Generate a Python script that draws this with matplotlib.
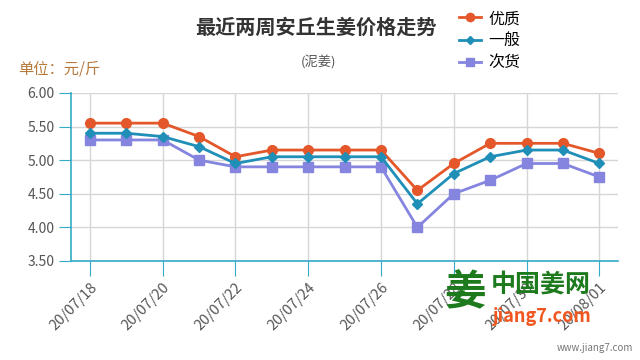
import matplotlib.pyplot as plt

plt.rcParams['font.family'] = ['Noto Sans CJK SC', 'DejaVu Sans']

# data
dates = ['20/07/18', '20/07/19', '20/07/20', '20/07/21', '20/07/22',
         '20/07/23', '20/07/24', '20/07/25', '20/07/26', '20/07/27',
         '20/07/28', '20/07/29', '20/07/30', '20/07/31', '20/08/01']
youzhi = [5.55, 5.55, 5.55, 5.35, 5.05, 5.15, 5.15, 5.15, 5.15, 4.55,
          4.95, 5.25, 5.25, 5.25, 5.10]
yiban = [5.40, 5.40, 5.35, 5.20, 4.95, 5.05, 5.05, 5.05, 5.05, 4.35,
         4.80, 5.05, 5.15, 5.15, 4.95]
cihuo = [5.30, 5.30, 5.30, 5.00, 4.90, 4.90, 4.90, 4.90, 4.90, 4.00,
         4.50, 4.70, 4.95, 4.95, 4.75]
y_ticks = [3.5, 4.0, 4.5, 5.0, 5.5, 6.0]

axis_color = '#35a9c8'
x = list(range(len(dates)))

fig = plt.figure(figsize=(6.4, 3.6), dpi=100)
ax = fig.add_axes([0.111, 0.275, 0.855, 0.467])

ax.plot(x, youzhi, color='#e4572a', lw=2, marker='o', ms=7, label='优质', zorder=3)
ax.plot(x, yiban, color='#1f8fb8', lw=2, marker='D', ms=5, label='一般', zorder=4)
ax.plot(x, cihuo, color='#8585e0', lw=2, marker='s', ms=7, label='次货', zorder=2)

ax.set_xlim(-0.52, len(dates) - 1 + 0.52)
ax.set_ylim(3.5, 6.0)
ax.set_yticks(y_ticks)
ax.set_yticklabels([f'{v:.2f}' for v in y_ticks])
ax.set_xticks(x[::2])
ax.set_xticklabels(dates[::2], rotation=45, ha='right', rotation_mode='anchor')

ax.grid(True, color='#d6d6d6', lw=1)
ax.set_axisbelow(True)
for s in ['top', 'right']:
    ax.spines[s].set_visible(False)
for s in ['left', 'bottom']:
    ax.spines[s].set_color(axis_color)
    ax.spines[s].set_linewidth(1.2)
ax.tick_params(axis='x', length=11, color=axis_color, labelcolor='#555555',
               labelsize=10.5, pad=3)
ax.tick_params(axis='y', length=9, color=axis_color, labelcolor='#555555',
               labelsize=10, pad=3)

fig.text(0.494, 0.925, '最近两周安丘生姜价格走势', ha='center', va='center',
         fontsize=14.5, fontweight='bold', color='#333333')
fig.text(0.497, 0.825, '(泥姜)', ha='center', va='center', fontsize=9.5,
         color='#555555')
fig.text(0.028, 0.808, '单位：元/斤', ha='left', va='center', fontsize=11,
         color='#b5793a')

fig.legend(loc='upper left', bbox_to_anchor=(0.694, 1.012), frameon=False,
           fontsize=11.5, handlelength=1.4, handletextpad=0.45,
           labelspacing=0.32, markerscale=0.85)

# watermark
fig.text(0.727, 0.185, '姜', ha='center', va='center', fontsize=30,
         color='#1d7a1d', fontweight='bold')
fig.text(0.845, 0.21, '中国姜网', ha='center', va='center', fontsize=18,
         color='#1d7a1d', fontweight='bold')
fig.text(0.848, 0.122, 'jiang7.com', ha='center', va='center', fontsize=13,
         color='#f0561d', fontweight='bold', style='italic')
fig.text(0.99, 0.02, 'www.jiang7.com', ha='right', va='bottom', fontsize=7,
         color='#777777')

fig.savefig('out.png', dpi=100)
